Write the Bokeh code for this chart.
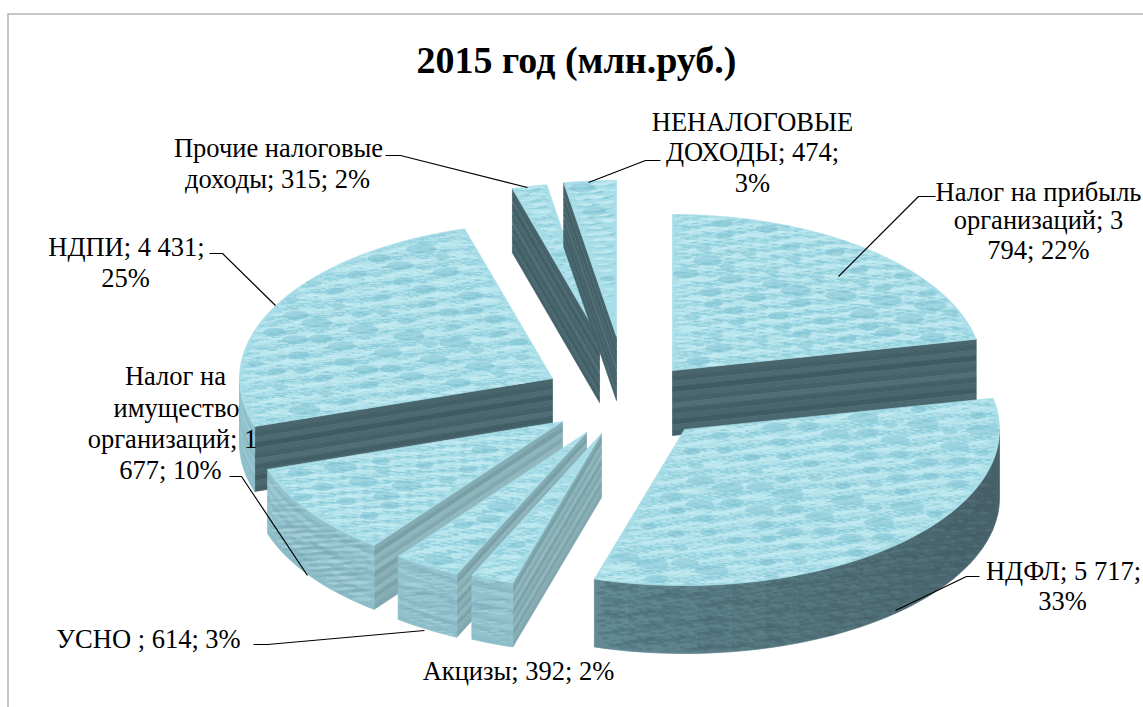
import math
from bokeh.plotting import figure
from bokeh.models import ColumnDataSource
from bokeh.core.properties import value
from bokeh.embed import file_html
from bokeh.resources import INLINE

# ---------- data ----------
categories = ["Налог на прибыль организаций", "НДФЛ", "Акцизы", "УСНО",
              "Налог на имущество организаций", "НДПИ",
              "Прочие налоговые доходы", "НЕНАЛОГОВЫЕ ДОХОДЫ"]
amounts = [3794, 5717, 392, 614, 1677, 4431, 315, 474]
title = "2015 год (млн.руб.)"

# ---------- layout / style ----------
W, H = 1143, 707
RY = 156
# position, radius and thickness of each exploded slice (layout, Excel "explosion")
slice_cx = [672, 684, 601, 586, 562, 552, 599, 616]
slice_cy = [370, 429, 433, 432, 421, 378, 338, 336]
slice_rx = [310, 315, 310, 310, 310, 313, 310, 310]
slice_d = [65, 68, 64, 63, 64, 65, 64, 64]
dark_wall = [True, True, False, False, False, True, True, True]
draw_order = [0, 5, 6, 7, 4, 3, 2, 1]
TOP = "#a9dee8"
DARK_BANDS = ["#4a666d", "#435f67", "#4c6a71", "#3f5a62", "#4a686f", "#446068",
              "#506e75", "#425e66", "#48666e", "#3f5b63", "#4b6970", "#44616a"]
PLANE_BANDS = ["#86acb3", "#79a0a8", "#8fb5bc", "#82a9b1", "#92b8bf", "#7aa1a9",
               "#8aafb6", "#7fa6ae", "#90b6bd", "#7ca3ab", "#88aeb5", "#80a7af"]
OUTER_BANDS = ["#93c3ce", "#8abbc7", "#9ac9d3", "#8ebfcb", "#96c6d0", "#86b7c3",
               "#93c3ce", "#8cbdc9", "#98c7d1", "#89bac6", "#91c1cc", "#8cbdc9"]

label_lines = [
    ("Прочие налоговые", 278, 147), ("доходы; 315; 2%", 277, 178),
    ("НЕНАЛОГОВЫЕ", 752, 121), ("ДОХОДЫ; 474;", 752, 151), ("3%", 752, 182),
    ("Налог на прибыль", 1038, 191), ("организаций; 3", 1038, 219), ("794; 22%", 1038, 249),
    ("НДПИ; 4 431;", 126, 246), ("25%", 125, 277),
    ("Налог на", 175, 375), ("имущество", 176, 407), ("организаций; 1", 172, 438), ("677; 10%", 170, 469),
    ("УСНО ; 614; 3%", 148, 638),
    ("Акцизы; 392; 2%", 518, 670),
    ("НДФЛ; 5 717;", 1063, 570), ("33%", 1062, 600),
]
leaders = [
    ([385, 400, 527], [155, 155, 187]),
    ([660, 645, 588], [160, 160, 182]),
    ([935, 918, 838], [196, 196, 276]),
    ([209, 222, 275], [253, 253, 305]),
    ([229, 241, 307], [476, 476, 575]),
    ([253, 267, 424], [644, 644, 630]),
    ([979, 966, 895], [576, 576, 610]),
]

# ---------- geometry from the values ----------
total = sum(amounts)
angles = [0.0]
for a in amounts:
    angles.append(angles[-1] + a / total * 360.0)


def pt(i, ang, d=0.0):
    r = math.radians(ang)
    return slice_cx[i] + slice_rx[i] * math.sin(r), slice_cy[i] - RY * math.cos(r) + d


def arc(i, a0, a1, d=0.0):
    n = max(2, int(abs(a1 - a0) / 2) + 2)
    return [pt(i, a0 + (a1 - a0) * k / (n - 1), d) for k in range(n)]


def inside(px, py, poly):
    c = False
    n = len(poly)
    for k in range(n):
        x1, y1 = poly[k]
        x2, y2 = poly[(k + 1) % n]
        if (y1 > py) != (y2 > py) and px < (x2 - x1) * (py - y1) / (y2 - y1) + x1:
            c = not c
    return c


def drops(poly, spacing, wmin, wmax, hmin, hmax, seed):
    xs = [q[0] for q in poly]
    ys = [q[1] for q in poly]
    x0, x1, y0, y1 = min(xs), max(xs), min(ys), max(ys)
    n = int((x1 - x0) * (y1 - y0) / spacing) + 1
    ox, oy, ow, oh = [], [], [], []
    for k in range(n):
        u = (seed + k * 0.7548776662) % 1
        v = (seed * 0.37 + k * 0.5698402910) % 1
        t = (seed * 0.61 + k * 0.6180339887) % 1
        w = wmin + (wmax - wmin) * t * t
        h = hmin + (hmax - hmin) * t
        x = x0 + u * (x1 - x0)
        y = y0 + v * (y1 - y0)
        if all(inside(x + a, y + b, poly) for a, b in ((-w/2, 0), (w/2, 0), (0, -h/2), (0, h/2))):
            ox.append(x); oy.append(y); ow.append(w); oh.append(h)
    return dict(x=ox, y=oy, w=ow, h=oh)


def lerp(c1, c2, t):
    a = [int(c1[j:j + 2], 16) for j in (1, 3, 5)]
    b = [int(c2[j:j + 2], 16) for j in (1, 3, 5)]
    return "#%02x%02x%02x" % tuple(round(a[j] + (b[j] - a[j]) * t) for j in range(3))


p = figure(width=W, height=H, x_range=(0, W), y_range=(H, 0),
           toolbar_location=None, output_backend="svg", min_border=0,
           outline_line_color=None, background_fill_color="#ffffff", border_fill_color="#ffffff")
p.axis.visible = False
p.grid.visible = False

# chart frame
p.line([7, W], [13.5, 13.5], line_color="#b4b4b4", line_width=1.5)
p.line([7.5, 7.5], [13, H], line_color="#b4b4b4", line_width=1.5)


def add_patches(polys, colors):
    src = ColumnDataSource(dict(xs=[[q[0] for q in s] for s in polys],
                                ys=[[q[1] for q in s] for s in polys], c=colors))
    p.patches("xs", "ys", source=src, fill_color="c", line_color="c", line_width=0.7)


def add_drops(d, color, alpha):
    if d["x"]:
        p.ellipse("x", "y", width="w", height="h", source=ColumnDataSource(d),
                  fill_color=color, fill_alpha=alpha, line_color=None)


for i in draw_order:
    a0, a1 = angles[i], angles[i + 1]
    depth = slice_d[i]
    n_b = len(DARK_BANDS)
    polys, cols = [], []
    bands_plane = DARK_BANDS if dark_wall[i] else PLANE_BANDS
    # cut planes that face the viewer
    plane_ang = None
    if a0 >= 180:
        plane_ang = a0
    elif a1 <= 180 and i == 0:
        plane_ang = a1
    if plane_ang is not None:
        ox, oy = pt(i, plane_ang)
        cx, cy = slice_cx[i], slice_cy[i]
        for b in range(n_b):
            d0, d1 = depth * b / n_b, depth * (b + 1) / n_b
            polys.append([(cx, cy + d0), (ox, oy + d0), (ox, oy + d1), (cx, cy + d1)])
            cols.append(bands_plane[b])
    # outer wall
    w0, w1 = max(a0, 90), min(a1, 270)
    wall_polys = []
    if w1 > w0:
        dark_flag = dark_wall[i] and i != 5   # the left end of the НДПИ rim is light
        if dark_flag:
            steps = max(1, int((w1 - w0) / 6))
            for s in range(steps):
                s0 = w0 + (w1 - w0) * s / steps
                s1 = w0 + (w1 - w0) * (s + 1) / steps
                t = (s / max(1, steps - 1)) ** 1.6
                polys.append(arc(i, s0, s1, 0) + arc(i, s1, s0, depth))
                cols.append(lerp("#476169", "#628a94", t))
        else:
            for b in range(n_b):
                d0, d1 = depth * b / n_b, depth * (b + 1) / n_b
                polys.append(arc(i, w0, w1, d0) + arc(i, w1, w0, d1))
                cols.append(OUTER_BANDS[b])
        wall_polys.append(arc(i, w0, w1, 0) + arc(i, w1, w0, depth))
    add_patches(polys, cols)
    for wp in wall_polys:
        if dark_wall[i] and i != 5:
            add_drops(drops(wp, 45, 6, 22, 1.5, 5, 0.13 + i * 0.1), "#3a545d", 0.25)
            add_drops(drops(wp, 120, 6, 20, 1.5, 4, 0.47 + i * 0.1), "#6f949c", 0.20)
        else:
            add_drops(drops(wp, 60, 8, 36, 1.5, 5, 0.13 + i * 0.1), "#78a7b5", 0.35)
            add_drops(drops(wp, 90, 8, 30, 1.5, 4, 0.47 + i * 0.1), "#b4dde4", 0.40)
    # top face
    face = [(slice_cx[i], slice_cy[i])] + arc(i, a0, a1)
    add_patches([face], [TOP])
    add_drops(drops(face, 20, 5, 24, 1, 4, 0.21 + i * 0.07), "#86c7d7", 0.45)
    add_drops(drops(face, 22, 5, 22, 1, 3, 0.59 + i * 0.07), "#c9eef4", 0.60)
    add_drops(drops(face, 600, 16, 34, 5, 10, 0.83 + i * 0.07), "#78bccf", 0.45)

# leader lines
for lx, ly in leaders:
    p.line(lx, ly, line_color="#000000", line_width=1.2)

# labels
lab = ColumnDataSource(dict(x=[l[1] for l in label_lines], y=[l[2] for l in label_lines],
                            t=[l[0] for l in label_lines]))
p.text("x", "y", text="t", source=lab, text_font=value("Liberation Serif"), text_font_size="26.5px",
       text_align="center", text_baseline="middle", text_color="#000000")
p.text([576], [59], text=[title], text_font=value("Liberation Serif"), text_font_size="38px",
       text_font_style="bold", text_align="center", text_baseline="middle", text_color="#000000")

open("out.html", "w").write(file_html(p, INLINE))
